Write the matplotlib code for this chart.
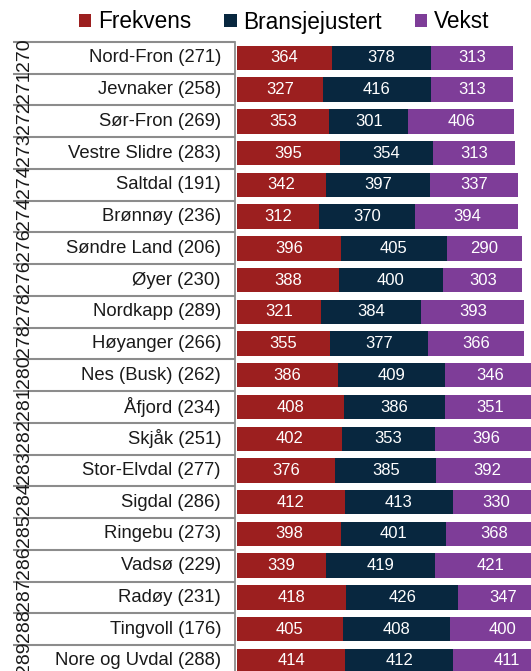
import numpy as np
import matplotlib.pyplot as plt
from matplotlib.patches import Patch
from matplotlib.transforms import blended_transform_factory

plt.rcParams['font.family'] = ['Liberation Sans', 'DejaVu Sans']

kommuner = ['Nord-Fron (271)', 'Jevnaker (258)', 'Sør-Fron (269)', 'Vestre Slidre (283)',
            'Saltdal (191)', 'Brønnøy (236)', 'Søndre Land (206)', 'Øyer (230)',
            'Nordkapp (289)', 'Høyanger (266)', 'Nes (Busk) (262)', 'Åfjord (234)',
            'Skjåk (251)', 'Stor-Elvdal (277)', 'Sigdal (286)', 'Ringebu (273)',
            'Vadsø (229)', 'Radøy (231)', 'Tingvoll (176)', 'Nore og Uvdal (288)']
rangering = ['270', '271', '272', '273', '274', '274', '276', '276', '278', '278',
             '280', '281', '282', '283', '284', '285', '286', '287', '288', '289']
frekvens = [364, 327, 353, 395, 342, 312, 396, 388, 321, 355,
            386, 408, 402, 376, 412, 398, 339, 418, 405, 414]
bransje = [378, 416, 301, 354, 397, 370, 405, 400, 384, 377,
           409, 386, 353, 385, 413, 401, 419, 426, 408, 412]
vekst = [313, 313, 406, 313, 337, 394, 290, 303, 393, 366,
         346, 351, 396, 392, 330, 368, 421, 347, 400, 411]

serier = ['Frekvens', 'Bransjejustert', 'Vekst']
farger = ['#9c1f1f', '#08273f', '#7e3d98']
grid_col = '#8c8c8c'

W, H = 531, 671
row_px = 31.74
top_px = 42
x0_px = 237
px_per_unit = 0.2616

fig = plt.figure(figsize=(W / 100, H / 100), dpi=100)
ax = fig.add_axes([x0_px / W, 0, 1 - x0_px / W, (H - top_px) / H])

n = len(kommuner)
y = np.arange(n)
left = np.zeros(n)
for vals, col in zip([frekvens, bransje, vekst], farger):
    vals = np.array(vals)
    ax.barh(y, vals, left=left, height=0.77, color=col, edgecolor='none')
    for yi, l, v in zip(y, left, vals):
        ax.text(l + v / 2, yi, str(v), ha='center', va='center',
                color='white', fontsize=12)
    left = left + vals

ax.set_xlim(0, (W - x0_px) / px_per_unit)
ybot = -0.5 + (H - top_px) / row_px
ax.set_ylim(ybot, -0.5)
ax.axis('off')

# label column on the left, drawn in figure x / data y
trans = blended_transform_factory(fig.transFigure, ax.transData)
for b in np.arange(n + 1) - 0.5:
    ax.plot([13 / W, 235 / W], [b, b], transform=trans, clip_on=False,
            color=grid_col, lw=1.5, solid_capstyle='butt')
ax.plot([235 / W, 235 / W], [-0.5, ybot], transform=trans, clip_on=False,
        color=grid_col, lw=1.3)
for i in range(n):
    ax.text(221 / W, i, kommuner[i], transform=trans, ha='right', va='center',
            fontsize=13.3, color='#1a1a1a')
    ax.text(24 / W, i - 0.1, rangering[i], transform=trans, ha='center',
            va='center', rotation=90, fontsize=14, color='#1a1a1a')

handles = [Patch(facecolor=c, edgecolor='none', label=s) for c, s in zip(farger, serier)]
fig.legend(handles=handles, loc='center', bbox_to_anchor=(284 / W, 1 - 22 / H),
           ncol=3, frameon=False, fontsize=16.3, handlelength=0.55, handleheight=0.55,
           handletextpad=0.3, columnspacing=1.45, borderpad=0)

fig.savefig('out.png', dpi=100)
